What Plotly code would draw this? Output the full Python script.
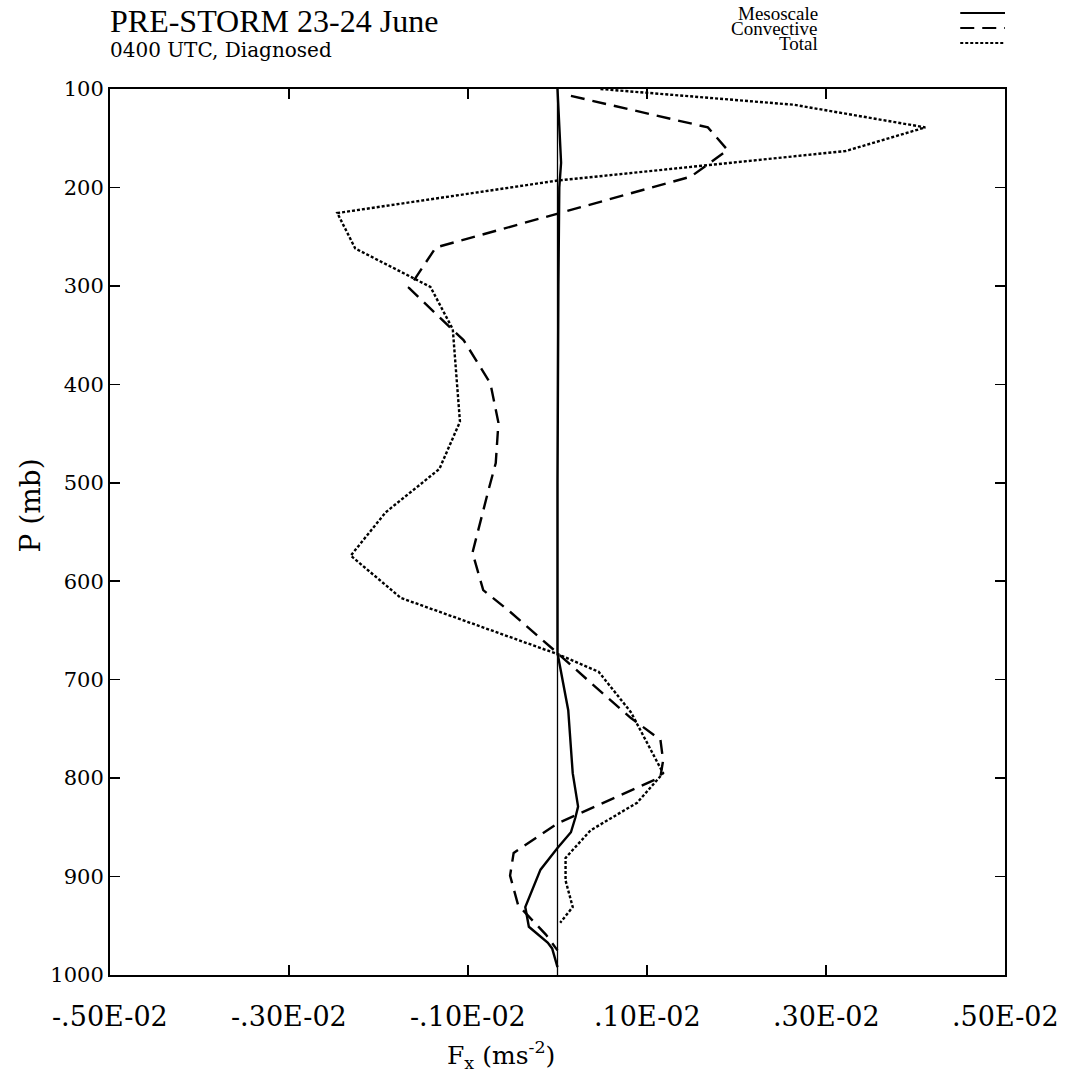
import plotly.graph_objects as go

# ---- data ----
meso_x = [0.0, 0.00003, 0.00004, 0.00002, 0.00001, 0.0, 0.0, 0.00012, 0.00017, 0.00023,
          0.00020, 0.00015, 0.0, -0.00019, -0.00036, -0.00032, -0.00011, -0.00006, 0.0]
meso_p = [100, 150, 175, 200, 300, 500, 673, 731, 795, 829,
          840, 855, 871, 893, 931, 951, 967, 973, 992]

conv_x = [0.00015, 0.00168, 0.00190, 0.00149, -0.00136, -0.00166, -0.00134, -0.00105,
          -0.00075, -0.00066, -0.00069, -0.00077, -0.00095, -0.00083, -0.00053, -0.00016,
          0.0, 0.00037, 0.00082, 0.00115, 0.00118, 0.00115, 0.0, -0.00049, -0.00053,
          -0.00044, -0.00013, 0.0]
conv_p = [107, 139, 162, 189, 261, 302, 330, 355,
          399, 439, 480, 507, 571, 609, 631, 660,
          673, 703, 739, 761, 782, 799, 846, 876, 899,
          929, 959, 975]

tot_x = [0.00048, 0.00264, 0.00411, 0.00322, 0.0, -0.00246, -0.00226, -0.00142, -0.00117,
         -0.00109, -0.00132, -0.00192, -0.00231, -0.00175, 0.0, 0.00046, 0.00082, 0.00118,
         0.00089, 0.00037, 0.00009, 0.00009, 0.00017, 0.00003]
tot_p = [100, 116, 139, 163, 193, 226, 262, 301, 344,
         438, 486, 530, 574, 617, 674, 692, 733, 795,
         825, 853, 881, 904, 931, 947]

x_tickvals = [-0.005, -0.003, -0.001, 0.001, 0.003, 0.005]
x_ticktext = ["-.50E-02", "-.30E-02", "-.10E-02", ".10E-02", ".30E-02", ".50E-02"]
x_minor_ticks = [-0.003, -0.001, 0, 0.001, 0.003]
y_tickvals = [100, 200, 300, 400, 500, 600, 700, 800, 900, 1000]
y_ticktext = [str(v) for v in y_tickvals]

series_names = ["Mesoscale", "Convective", "Total"]
series_dash = ["solid", "14px,8px", "3px,2px"]

SERIF = "Liberation Serif, DejaVu Serif, serif"
WIDE = "DejaVu Serif, serif"

fig = go.Figure()
# zero reference line
fig.add_trace(go.Scatter(x=[0, 0], y=[100, 1000], mode="lines",
                         line=dict(color="black", width=1.3), showlegend=False, hoverinfo="skip"))
for xs, ps, nm, d in zip([meso_x, conv_x, tot_x], [meso_p, conv_p, tot_p], series_names, series_dash):
    fig.add_trace(go.Scatter(x=xs, y=ps, mode="lines", name=nm,
                             line=dict(color="black", width=2.4, dash=d), showlegend=False))

fig.update_xaxes(range=[-0.005, 0.005], tickvals=x_minor_ticks, showticklabels=False,
                 ticks="inside", ticklen=10, tickwidth=1.5, tickcolor="black",
                 showline=True, linecolor="black", linewidth=2, mirror="ticks",
                 showgrid=False, zeroline=False)
fig.update_yaxes(range=[1000, 100], tickvals=y_tickvals, ticktext=y_ticktext,
                 ticks="inside", ticklen=10, tickwidth=1.5, tickcolor="black",
                 showline=True, linecolor="black", linewidth=2, mirror="ticks",
                 showgrid=False, zeroline=False,
                 tickfont=dict(family=WIDE, size=21, color="black"),
                 ticklabelstandoff=0)

# x tick labels (the figure labels the axis ends, not the tick marks)
for v, t in zip(x_tickvals, x_ticktext):
    fig.add_annotation(x=v, y=0, xref="x", yref="paper", yshift=-41, text=t,
                       showarrow=False, font=dict(family=WIDE, size=27, color="black"),
                       xanchor="center", yanchor="middle")

fig.add_annotation(x=0.437, y=0, xref="paper", yref="paper", yshift=-80,
                   text="F<sub>x</sub> (ms<sup>-2</sup>)", showarrow=False,
                   font=dict(family=WIDE, size=25, color="black"), yanchor="middle")
fig.add_annotation(x=0, y=0.53, xref="paper", yref="paper", xshift=-80,
                   text="P (mb)", textangle=-90, showarrow=False,
                   font=dict(family=WIDE, size=28, color="black"), xanchor="center")

fig.add_annotation(x=0, y=1, xref="paper", yref="paper", xshift=-2, yshift=68,
                   text="PRE-STORM 23-24 June", showarrow=False, xanchor="left", yanchor="middle",
                   font=dict(family=SERIF, size=32, color="black"))
fig.add_annotation(x=0, y=1, xref="paper", yref="paper", xshift=-2, yshift=39,
                   text="0400 UTC, Diagnosed", showarrow=False, xanchor="left", yanchor="middle",
                   font=dict(family=WIDE, size=20, color="black"))

for i, (nm, d) in enumerate(zip(series_names, series_dash)):
    ys = 76 - i * 15
    fig.add_annotation(x=0.793, y=1, xref="paper", yref="paper", yshift=ys,
                       text=nm, showarrow=False, xanchor="right", yanchor="middle",
                       font=dict(family=SERIF, size=19, color="black"))
    fig.add_shape(type="line", xref="paper", yref="paper", x0=0.95, x1=1.0,
                  y0=1 + ys / 886, y1=1 + ys / 886,
                  line=dict(color="black", width=2, dash=d))

fig.update_layout(width=1071, height=1077, margin=dict(l=110, r=66, t=89, b=102),
                  plot_bgcolor="white", paper_bgcolor="white", showlegend=False,
                  hovermode=False)

fig.write_html("out.html", config={"displayModeBar": False, "staticPlot": True},
               post_script="document.body.style.margin='0';document.body.style.overflow='hidden';")
